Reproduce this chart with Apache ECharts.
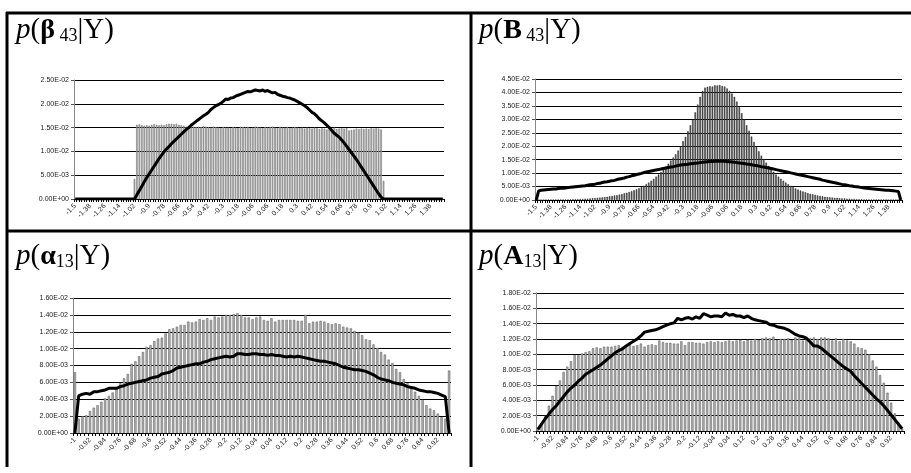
<!DOCTYPE html>
<html lang="en">
<head>
    <meta charset="UTF-8">
    <title>Posterior histograms</title>
    <script src="https://cdn.jsdelivr.net/npm/echarts@6/dist/echarts.min.js"></script>
    <style>
        html, body { margin: 0; padding: 0; background: #fff; }
        #main { width: 911px; height: 473px; }
    </style>
</head>
<body>
<div id="main"></div>
<script>
    // categories (bin values)
    var catsWide = [-1.5,-1.48,-1.46,-1.44,-1.42,-1.4,-1.38,-1.36,-1.34,-1.32,-1.3,-1.28,-1.26,-1.24,-1.22,-1.2,-1.18,-1.16,-1.14,-1.12,-1.1,-1.08,-1.06,-1.04,-1.02,-1,-0.98,-0.96,-0.94,-0.92,-0.9,-0.88,-0.86,-0.84,-0.82,-0.8,-0.78,-0.76,-0.74,-0.72,-0.7,-0.68,-0.66,-0.64,-0.62,-0.6,-0.58,-0.56,-0.54,-0.52,-0.5,-0.48,-0.46,-0.44,-0.42,-0.4,-0.38,-0.36,-0.34,-0.32,-0.3,-0.28,-0.26,-0.24,-0.22,-0.2,-0.18,-0.16,-0.14,-0.12,-0.1,-0.08,-0.06,-0.04,-0.02,0,0.02,0.04,0.06,0.08,0.1,0.12,0.14,0.16,0.18,0.2,0.22,0.24,0.26,0.28,0.3,0.32,0.34,0.36,0.38,0.4,0.42,0.44,0.46,0.48,0.5,0.52,0.54,0.56,0.58,0.6,0.62,0.64,0.66,0.68,0.7,0.72,0.74,0.76,0.78,0.8,0.82,0.84,0.86,0.88,0.9,0.92,0.94,0.96,0.98,1,1.02,1.04,1.06,1.08,1.1,1.12,1.14,1.16,1.18,1.2,1.22,1.24,1.26,1.28,1.3,1.32,1.34,1.36,1.38,1.4,1.42,1.44,1.46,1.48];
    var catsNarrow = [-1,-0.98,-0.96,-0.94,-0.92,-0.9,-0.88,-0.86,-0.84,-0.82,-0.8,-0.78,-0.76,-0.74,-0.72,-0.7,-0.68,-0.66,-0.64,-0.62,-0.6,-0.58,-0.56,-0.54,-0.52,-0.5,-0.48,-0.46,-0.44,-0.42,-0.4,-0.38,-0.36,-0.34,-0.32,-0.3,-0.28,-0.26,-0.24,-0.22,-0.2,-0.18,-0.16,-0.14,-0.12,-0.1,-0.08,-0.06,-0.04,-0.02,0,0.02,0.04,0.06,0.08,0.1,0.12,0.14,0.16,0.18,0.2,0.22,0.24,0.26,0.28,0.3,0.32,0.34,0.36,0.38,0.4,0.42,0.44,0.46,0.48,0.5,0.52,0.54,0.56,0.58,0.6,0.62,0.64,0.66,0.68,0.7,0.72,0.74,0.76,0.78,0.8,0.82,0.84,0.86,0.88,0.9,0.92,0.94,0.96,0.98];

    // p(beta43|Y)
    var betaBars = [0,0,0,0,0,0,0,0,0,0,0,0,0,0,0,0,0,0,0,0,0,0,0,0,
        0.0042,
        0.0156,0.0157,0.0155,0.0154,0.0155,0.0154,0.0156,0.0157,0.0156,0.0155,
        0.0156,0.0155,0.0157,0.0158,0.0158,0.0157,0.0158,0.0156,0.0155,0.0154,
        0.0152,0.0153,0.0151,0.0152,0.0151,0.0152,0.0151,0.0153,0.0152,0.0151,
        0.0150,0.0152,0.0151,0.0150,0.0149,0.0151,0.0150,0.0150,0.0149,0.0151,
        0.0150,0.0149,0.0152,0.0151,0.0150,0.0151,0.0149,0.0150,0.0152,0.0151,
        0.0150,0.0149,0.0151,0.0150,0.0151,0.0152,0.0150,0.0149,0.0151,0.0150,
        0.0150,0.0151,0.0149,0.0150,0.0151,0.0150,0.0149,0.0150,0.0148,0.0150,
        0.0149,0.0148,0.0150,0.0149,0.0147,0.0149,0.0148,0.0146,0.0149,0.0148,
        0.0150,0.0147,0.0148,0.0149,0.0148,0.0149,0.0144,0.0145,0.0146,0.0148,
        0.0147,0.0148,0.0147,0.0148,0.0147,0.0149,0.0148,0.0149,0.0148,0.0146,
        0.0038,
        0,0,0,0,0,0,0,0,0,0,0,0,0,0,0,0,0,0,0,0,0,0,0,0];
    var betaLine = [0,0,0,0,0,0,0,0,0,0,0,0,0,0,0,0,0,0,0,0,0,0,0,0,0,
        0.0009,0.0018,0.0027,0.0036,0.0045,0.0053,0.0061,0.0069,0.0077,0.0085,
        0.0092,0.0099,0.0105,0.0110,0.0116,0.0121,0.0126,0.0131,0.0136,0.0141,
        0.0146,0.0150,0.0155,0.0159,0.0163,0.0167,0.0171,0.0175,0.0178,0.0182,
        0.0188,0.0192,0.0196,0.0198,0.0201,0.0205,0.0210,0.0209,0.0212,0.0213,
        0.0216,0.0218,0.0220,0.0222,0.0224,0.0226,0.0225,0.0227,0.0229,0.0228,
        0.0227,0.0229,0.0226,0.0228,0.0225,0.0223,0.0224,0.0220,0.0218,0.0216,
        0.0215,0.0213,0.0212,0.0210,0.0208,0.0205,0.0202,0.0199,0.0196,0.0192,
        0.0187,0.0182,0.0179,0.0174,0.0168,0.0164,0.0160,0.0155,0.0150,0.0144,
        0.0138,0.0134,0.0130,0.0124,0.0118,0.0111,0.0104,0.0097,0.0090,0.0083,
        0.0075,0.0067,0.0059,0.0051,0.0043,0.0035,0.0027,0.0019,0.0011,0.0004,
        0,0,0,0,0,0,0,0,0,0,0,0,0,0,0,0,0,0,0,0,0,0,0,0,0];

    // p(B43|Y)
    var bigBBars = [0,0,0,0,0,0.0001,0.0001,0.0001,0.0001,0.0001,
        0.0001,0.0002,0.0002,0.0002,0.0002,0.0003,0.0003,0.0003,0.0004,0.0004,
        0.0005,0.0005,0.0006,0.0007,0.0007,0.0008,0.0009,0.0010,0.0011,0.0012,
        0.0014,0.0015,0.0017,0.0018,0.0020,0.0022,0.0025,0.0027,0.0030,0.0033,
        0.0036,0.0040,0.0044,0.0048,0.0053,0.0059,0.0065,0.0072,0.0079,0.0087,
        0.0095,0.0104,0.0114,0.0124,0.0135,0.0147,0.0158,0.0170,0.0184,0.0200,
        0.0219,0.0235,0.0256,0.0278,0.0300,0.0326,0.0355,0.0384,0.0406,0.0418,
        0.0421,0.0423,0.0422,0.0427,0.0426,0.0428,0.0424,0.0422,0.0415,0.0406,
        0.0396,0.0384,0.0366,0.0346,0.0323,0.0300,0.0278,0.0258,0.0236,0.0216,
        0.0198,0.0181,0.0165,0.0152,0.0139,0.0127,0.0116,0.0105,0.0095,0.0087,
        0.0079,0.0072,0.0065,0.0059,0.0053,0.0048,0.0043,0.0039,0.0035,0.0032,
        0.0029,0.0026,0.0023,0.0021,0.0019,0.0017,0.0015,0.0014,0.0012,0.0011,
        0.0010,0.0009,0.0008,0.0008,0.0007,0.0006,0.0006,0.0005,0.0005,0.0004,
        0.0004,0.0003,0.0003,0.0003,0.0002,0.0002,0.0002,0.0002,0.0001,0.0001,
        0.0001,0.0001,0.0001,0.0001,0,0,0,0,0,0];
    var bigBLine = [0,0.0034,0.0036,0.0037,0.0038,0.0039,0.0040,0.0041,0.0041,0.0043,
        0.0044,0.0044,0.0045,0.0046,0.0047,0.0048,0.0049,0.0050,0.0051,0.0052,
        0.0053,0.0055,0.0057,0.0058,0.0059,0.0061,0.0062,0.0065,0.0067,0.0068,
        0.0070,0.0072,0.0073,0.0076,0.0078,0.0080,0.0082,0.0085,0.0087,0.0090,
        0.0092,0.0095,0.0097,0.0099,0.0102,0.0104,0.0106,0.0108,0.0110,0.0112,
        0.0113,0.0115,0.0117,0.0119,0.0121,0.0123,0.0124,0.0126,0.0128,0.0130,
        0.0131,0.0132,0.0133,0.0135,0.0136,0.0137,0.0138,0.0139,0.0140,0.0141,
        0.0142,0.0143,0.0143,0.0144,0.0145,0.0144,0.0145,0.0144,0.0143,0.0142,
        0.0141,0.0140,0.0139,0.0138,0.0137,0.0136,0.0134,0.0133,0.0131,0.0129,
        0.0128,0.0126,0.0124,0.0123,0.0121,0.0119,0.0117,0.0115,0.0113,0.0111,
        0.0109,0.0107,0.0105,0.0103,0.0101,0.0099,0.0097,0.0095,0.0093,0.0091,
        0.0089,0.0087,0.0085,0.0083,0.0081,0.0079,0.0077,0.0074,0.0072,0.0070,
        0.0068,0.0066,0.0064,0.0062,0.0060,0.0058,0.0057,0.0055,0.0053,0.0052,
        0.0050,0.0049,0.0048,0.0046,0.0045,0.0044,0.0043,0.0042,0.0041,0.0040,
        0.0039,0.0038,0.0037,0.0036,0.0036,0.0035,0.0034,0.0033,0.0032,0];

    // p(alpha13|Y)
    var alphaBars = [0.0072,0.0017,0.0020,0.0021,0.0026,0.0030,0.0033,0.0037,0.0041,0.0044,
        0.0048,0.0054,0.0059,0.0065,0.0070,0.0082,0.0085,0.0091,0.0096,0.0102,
        0.0104,0.0109,0.0112,0.0113,0.0118,0.0123,0.0124,0.0126,0.0128,0.0128,
        0.0132,0.0131,0.0132,0.0135,0.0134,0.0136,0.0134,0.0138,0.0137,0.0138,
        0.0140,0.0140,0.0141,0.0142,0.0140,0.0137,0.0137,0.0135,0.0137,0.0138,
        0.0134,0.0133,0.0136,0.0132,0.0134,0.0134,0.0134,0.0134,0.0134,0.0133,
        0.0133,0.0140,0.0130,0.0132,0.0132,0.0133,0.0132,0.0130,0.0129,0.0130,
        0.0129,0.0126,0.0125,0.0124,0.0121,0.0119,0.0116,0.0111,0.0110,0.0105,
        0.0101,0.0096,0.0093,0.0087,0.0083,0.0076,0.0072,0.0064,0.0059,0.0054,
        0.0049,0.0044,0.0039,0.0033,0.0029,0.0027,0.0023,0.0019,0.0017,0.0074];
    var alphaLine = [0,0.0044,0.0046,0.0047,0.0046,0.0049,0.0049,0.0050,0.0051,0.0053,
        0.0053,0.0053,0.0055,0.0056,0.0058,0.0059,0.0060,0.0061,0.0062,0.0063,
        0.0065,0.0066,0.0067,0.0070,0.0071,0.0072,0.0074,0.0077,0.0078,0.0079,
        0.0080,0.0081,0.0082,0.0082,0.0084,0.0085,0.0087,0.0088,0.0089,0.0090,
        0.0091,0.0090,0.0091,0.0094,0.0094,0.0093,0.0093,0.0094,0.0094,0.0093,
        0.0093,0.0092,0.0093,0.0092,0.0092,0.0091,0.0090,0.0091,0.0090,0.0091,
        0.0090,0.0089,0.0088,0.0087,0.0086,0.0085,0.0085,0.0084,0.0083,0.0082,
        0.0080,0.0078,0.0077,0.0076,0.0075,0.0075,0.0074,0.0073,0.0071,0.0069,
        0.0066,0.0064,0.0063,0.0062,0.0060,0.0059,0.0058,0.0057,0.0055,0.0054,
        0.0053,0.0051,0.0050,0.0049,0.0049,0.0048,0.0047,0.0045,0.0043,0];

    // p(A13|Y)
    var bigABars = [0.0003,0.0010,0.0020,0.0033,0.0046,0.0059,0.0066,0.0077,0.0084,0.0091,
        0.0099,0.0099,0.0101,0.0103,0.0104,0.0108,0.0109,0.0108,0.0110,0.0110,
        0.0110,0.0111,0.0112,0.0110,0.0111,0.0113,0.0111,0.0112,0.0114,0.0110,
        0.0112,0.0113,0.0112,0.0118,0.0116,0.0115,0.0115,0.0114,0.0114,0.0117,
        0.0112,0.0116,0.0116,0.0115,0.0115,0.0114,0.0116,0.0117,0.0116,0.0117,
        0.0116,0.0117,0.0118,0.0117,0.0118,0.0119,0.0117,0.0119,0.0118,0.0120,
        0.0119,0.0121,0.0122,0.0121,0.0123,0.0119,0.0120,0.0120,0.0121,0.0119,
        0.0122,0.0121,0.0118,0.0121,0.0121,0.0122,0.0120,0.0122,0.0122,0.0121,
        0.0118,0.0121,0.0117,0.0120,0.0118,0.0117,0.0114,0.0109,0.0108,0.0106,
        0.0100,0.0092,0.0084,0.0073,0.0063,0.0050,0.0037,0.0023,0.0011,0.0003];
    var bigALine = [0.0002,0.0009,0.0016,0.0022,0.0028,0.0033,0.0039,0.0045,0.0051,0.0056,
        0.0060,0.0065,0.0069,0.0074,0.0077,0.0080,0.0083,0.0086,0.0090,0.0094,
        0.0098,0.0102,0.0105,0.0107,0.0111,0.0114,0.0117,0.0120,0.0124,0.0129,
        0.0130,0.0131,0.0132,0.0134,0.0136,0.0138,0.0140,0.0141,0.0147,0.0145,
        0.0147,0.0148,0.0146,0.0149,0.0147,0.0153,0.0151,0.0149,0.0150,0.0150,
        0.0149,0.0154,0.0151,0.0152,0.0150,0.0150,0.0148,0.0150,0.0147,0.0145,
        0.0144,0.0143,0.0142,0.0139,0.0138,0.0136,0.0135,0.0134,0.0132,0.0129,
        0.0126,0.0124,0.0123,0.0121,0.0116,0.0111,0.0111,0.0108,0.0104,0.0100,
        0.0096,0.0092,0.0088,0.0084,0.0081,0.0078,0.0072,0.0067,0.0062,0.0057,
        0.0052,0.0047,0.0042,0.0038,0.0033,0.0027,0.0021,0.0015,0.0009,0.0003];

    var chart = echarts.init(document.getElementById('main'));

    // 2.50E-02 style labels
    function sci(v) {
        if (Math.abs(v) < 1e-12) return '0.00E+00';
        var e = Math.floor(Math.log10(Math.abs(v)) + 1e-9);
        var m = v / Math.pow(10, e);
        if (m >= 9.995) { m = m / 10; e = e + 1; }
        var s = Math.abs(e) < 10 ? '0' + Math.abs(e) : '' + Math.abs(e);
        return m.toFixed(2) + 'E' + (e < 0 ? '-' : '+') + s;
    }

    var serif = 'Liberation Serif';
    var rich = {
        i: { fontFamily: serif, fontStyle: 'italic', fontWeight: 'normal', fontSize: 29, color: '#000' },
        n: { fontFamily: serif, fontWeight: 'normal', fontSize: 29, color: '#000' },
        b: { fontFamily: serif, fontWeight: 'bold', fontSize: 28, color: '#000' },
        s: { fontFamily: serif, fontWeight: 'normal', fontSize: 18, color: '#000', verticalAlign: 'bottom', lineHeight: 10 }
    };

    function makeX(idx, cats, every) {
        return {
            type: 'category', gridIndex: idx, data: cats, boundaryGap: true,
            axisLine: { show: true, lineStyle: { color: '#000', width: 1 } },
            axisTick: { show: true, interval: 0, length: 3, lineStyle: { color: '#000', width: 1 } },
            axisLabel: {
                interval: every, rotate: 45, fontSize: 7, fontFamily: 'Liberation Sans',
                color: '#222', margin: 6
            }
        };
    }
    function makeY(idx, max, step) {
        return {
            type: 'value', gridIndex: idx, min: 0, max: max, interval: step,
            axisLine: { show: true, lineStyle: { color: '#888', width: 1 } },
            axisTick: { show: true, length: 3, lineStyle: { color: '#555' } },
            splitLine: { show: true, lineStyle: { color: '#000', width: 1 } },
            axisLabel: { fontSize: 7, fontFamily: 'Liberation Sans', color: '#222', margin: 5, formatter: sci }
        };
    }
    function barSeries(idx, data, fill, edge) {
        return {
            type: 'bar', xAxisIndex: idx, yAxisIndex: idx, data: data,
            barCategoryGap: '40%', silent: true, z: 2,
            itemStyle: { color: fill, borderColor: edge, borderWidth: 0.5 }
        };
    }
    function lineSeries(idx, data) {
        return {
            type: 'line', xAxisIndex: idx, yAxisIndex: idx, data: data,
            symbol: 'none', silent: true, z: 3,
            lineStyle: { color: '#000', width: 3 }
        };
    }

    var option = {
        animation: false,
        backgroundColor: '#fff',
        title: [
            { left: 11, top: 11, text: '{i|p}{n|(}{b|β}{s| 43}{n||Y)}', textStyle: { fontWeight: 'normal', rich: rich } },
            { left: 474, top: 11, text: '{i|p}{n|(}{b|B}{s| 43}{n||Y)}', textStyle: { fontWeight: 'normal', rich: rich } },
            { left: 11, top: 237, text: '{i|p}{n|(}{b|α}{s|13}{n||Y)}', textStyle: { fontWeight: 'normal', rich: rich } },
            { left: 474, top: 237, text: '{i|p}{n|(}{b|A}{s|13}{n||Y)}', textStyle: { fontWeight: 'normal', rich: rich } }
        ],
        graphic: [
            { type: 'line', shape: { x1: 6, y1: 13, x2: 911, y2: 13 }, style: { stroke: '#000', lineWidth: 3 } },
            { type: 'line', shape: { x1: 7, y1: 12, x2: 7, y2: 467 }, style: { stroke: '#000', lineWidth: 3 } },
            { type: 'line', shape: { x1: 6, y1: 231, x2: 911, y2: 231 }, style: { stroke: '#000', lineWidth: 3 } },
            { type: 'line', shape: { x1: 471, y1: 12, x2: 471, y2: 467 }, style: { stroke: '#000', lineWidth: 3 } }
        ],
        grid: [
            { left: 74, right: 467, top: 80, bottom: 274 },
            { left: 535, right: 9, top: 79, bottom: 273 },
            { left: 73, right: 460, top: 298, bottom: 40 },
            { left: 536, right: 7, top: 293, bottom: 42 }
        ],
        xAxis: [
            makeX(0, catsWide, 5),
            makeX(1, catsWide, 5),
            makeX(2, catsNarrow, 3),
            makeX(3, catsNarrow, 3)
        ],
        yAxis: [
            makeY(0, 0.025, 0.005),
            makeY(1, 0.045, 0.005),
            makeY(2, 0.016, 0.002),
            makeY(3, 0.018, 0.002)
        ],
        series: [
            barSeries(0, betaBars, '#b8b8b8', '#666'),
            lineSeries(0, betaLine),
            barSeries(1, bigBBars, '#555', '#222'),
            lineSeries(1, bigBLine),
            barSeries(2, alphaBars, '#b0b0b0', '#555'),
            lineSeries(2, alphaLine),
            barSeries(3, bigABars, '#b0b0b0', '#555'),
            lineSeries(3, bigALine)
        ]
    };
    chart.setOption(option);
</script>
</body>
</html>
